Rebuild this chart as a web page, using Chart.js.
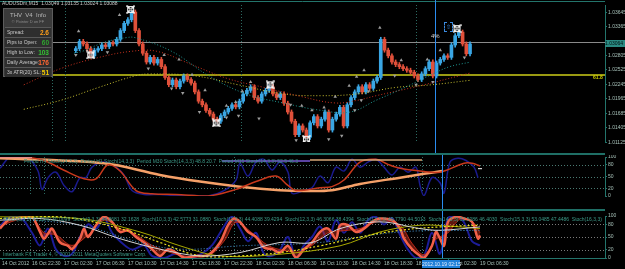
<!DOCTYPE html>
<html>
<head>
<meta charset="utf-8">
<script src="https://cdn.jsdelivr.net/npm/chart.js@4.4.0/dist/chart.umd.min.js"></script>
<style>
body { margin: 0; background: #000; width: 625px; height: 269px; overflow: hidden; position: relative; font-family: "Liberation Sans", Arial, sans-serif; }
canvas { position: absolute; left: 0; }
.txt { position: absolute; white-space: nowrap; font-size: 5px; line-height: 6px; }
.sep { position: absolute; left: 0; width: 605px; height: 2px; background: #1f6f66; }
#info { position: absolute; left: 3px; top: 8px; width: 50px; height: 69px; background: #3a3a3a; border: 1px solid #5c5c5c; box-sizing: border-box; }
#info .hd { position: absolute; left: 0; width: 100%; top: 3px; text-align: center; font-size: 6px; color: #b8b8b8; }
#info .sub { position: absolute; left: 0; width: 100%; top: 10px; text-align: center; font-size: 4px; color: #8a8a8a; }
#info .row { position: absolute; left: 1px; right: 1px; height: 9px; background: #2e2e2e; border-top: 1px solid #585858; font-size: 5px; color: #c8c8c8; line-height: 9px; padding-left: 2px; }
#info .row b { position: absolute; right: 2px; top: 0; font-size: 6.5px; }
</style>
</head>
<body>
<canvas id="main" width="625" height="155" style="top:0"></canvas>
<canvas id="st1" width="625" height="54" style="top:155px"></canvas>
<canvas id="st2" width="625" height="58" style="top:211px"></canvas>

<div class="sep" style="top:153px"></div>
<div class="sep" style="top:209px"></div>

<div class="txt" style="left:2px;top:0;color:#c8c8c8">AUDUSDm,M15&nbsp; 1.03049 1.03135 1.03024 1.03088</div>
<div id="info">
  <div class="hd">THV&nbsp; V4&nbsp; Info</div>
  <div class="sub">© Pointer D on FF</div>
  <div class="row" style="top:18px">Spread:<b style="color:#ff9f1a">2.6</b></div>
  <div class="row" style="top:28px">Pips to Open:<b style="color:#2ea32e">60</b></div>
  <div class="row" style="top:38px">High to Low:<b style="color:#33c233">103</b></div>
  <div class="row" style="top:48px">Daily Average:<b style="color:#ff6633">176</b></div>
  <div class="row" style="top:58px">3x ATR(20) SL:<b style="color:#f0c800">51</b></div>
</div>
<div class="txt" style="left:431px;top:33px;font-size:6px;color:#d8d8d8">4%</div>
<div style="position:absolute;left:444px;top:22px;width:7px;height:8px;border:1px dashed #3b8be0;color:#3b8be0;font-size:6px;line-height:8px;text-align:center">⇧</div>
<div class="txt" style="left:593px;top:74px;color:#d0d000;font-weight:bold">61.8</div>
<div class="txt" style="left:605px;top:40px;width:20px;height:7px;line-height:7px;background:#2a8a82;color:#001010">1.03064</div>

<div class="txt" style="left:24px;top:158px;color:#3c9a88">Period H4 Stoch(14,3,3)&nbsp; Period H1 Stoch(14,3,3)&nbsp; Period M30 Stoch(14,3,3) 48.8 20.7&nbsp; Period M15 Stoch(14,3,3) 52.5 46.3</div>
<div class="txt" style="left:4px;top:216px;color:#3c9a88">Stoch(5,3,3) 41.2240 30.0099&nbsp; Stoch(9,3,3) 44.8681 32.1628&nbsp; Stoch(10,3,3) 42.5773 31.0880&nbsp; Stoch(11,3,3) 44.4088 39.4294&nbsp; Stoch(12,3,3) 46.3066 38.4394&nbsp; Stoch(13,3,3) 49.7790 44.5013&nbsp; Stoch(14,3,3) 52.5086 46.4030&nbsp; Stoch(15,3,3) 53.0485 47.4486&nbsp; Stoch(16,3,3)</div>
<div class="txt" style="left:3px;top:251px;color:#3c9a88">Interbank FX Trader 4, © 2001-2011 MetaQuotes Software Corp.</div>
<div class="txt" style="left:422px;top:260px;width:38px;height:8px;line-height:8px;background:#1e7fd8;color:#e8f0ff;text-align:center">2012.10.19 02:15</div>

<script>
// x units: one slot = 4px
const X_MAX = 151.25;
const FIRST_BAR = 14;
const FIRST_OPEN = 1.0290;

const closes = [
    1.0294, 1.0308, 1.0303, 1.0294, 1.0280, 1.0291, 1.0294, 1.0301, 1.0298, 1.0305,
    1.0303, 1.0312, 1.0329, 1.0343, 1.0350, 1.0365, 1.0329, 1.0303, 1.0285, 1.0268,
    1.0277, 1.0266, 1.0273, 1.0259, 1.0238, 1.0224, 1.0233, 1.0220, 1.0231, 1.0241,
    1.0234, 1.0227, 1.0210, 1.0192, 1.0185, 1.0174, 1.0167, 1.0157, 1.0153, 1.0164,
    1.0171, 1.0178, 1.0185, 1.0181, 1.0192, 1.0206, 1.0213, 1.0220, 1.0199, 1.0192,
    1.0206, 1.0213, 1.0220, 1.0206, 1.0199, 1.0206, 1.0188, 1.0171, 1.0153, 1.0127,
    1.0144, 1.0136, 1.0122, 1.0150, 1.0162, 1.0144, 1.0157, 1.0171, 1.0136, 1.0157,
    1.0167, 1.0180, 1.0144, 1.0185, 1.0199, 1.0210, 1.0220, 1.0210, 1.0224, 1.0217,
    1.0231, 1.0238, 1.0312, 1.0291, 1.0280, 1.0268, 1.0263, 1.0259, 1.0255, 1.0252,
    1.0248, 1.0241, 1.0234, 1.0245, 1.0255, 1.0268, 1.0241, 1.0266, 1.0273, 1.0280,
    1.0277, 1.0301, 1.0319, 1.0326, 1.0303, 1.0284, 1.0303
];

const priceTicks = [1.03645, 1.03365, 1.02805, 1.02525, 1.02245, 1.01965, 1.01685, 1.01405, 1.01125];
const bidPrice = 1.03064;
const fibPrice = 1.02431;

const timeTickPos = [0.5, 8, 16, 24, 32, 40, 48, 56, 64, 72, 80, 88, 96, 104, 112, 120];
const timeTickLabels = ['14 Oct 2012', '16 Oct 22:30', '17 Oct 02:30', '17 Oct 06:30', '17 Oct 10:30',
    '17 Oct 14:30', '17 Oct 18:30', '17 Oct 22:30', '18 Oct 02:30', '18 Oct 06:30', '18 Oct 10:30',
    '18 Oct 14:30', '18 Oct 18:30', '18 Oct 22:30', '19 Oct 02:30', '19 Oct 06:30'];
const daySeparators = [7.5, 11, 58.5, 105.5];
const cursorPos = 110.5;

// moving averages [x, price]
const maTeal = [[13.5,1.02853],[15.75,1.02888],[21.75,1.03064],[27.5,1.03152],[30,1.03152],[39.75,1.02888],[49.75,1.02413],[59.75,1.02061],[69.75,1.01885],[79.75,1.01744],[87.75,1.01709],[94.75,1.01938],[99.75,1.02096],[105.5,1.02290],[110.5,1.02466],[114.5,1.02589],[120,1.02677]];
const maRed = [[0,1.02237],[10,1.02554],[20,1.02765],[29,1.02888],[35.75,1.02888],[44.75,1.02642],[54.75,1.02360],[64.75,1.02184],[74.75,1.02008],[83.75,1.01885],[89.75,1.01938],[94.75,1.02026],[104.5,1.02184],[110.5,1.02290],[120,1.02466]];
const maYellow = [[0,1.01762],[10,1.01938],[20,1.02184],[30,1.02413],[33.75,1.02448],[45.75,1.02413],[57.75,1.02237],[69.75,1.02061],[79.75,1.02026],[89.75,1.02061],[99.75,1.02184],[109.5,1.02237],[120,1.02325]];

// fractals and swing markers [x, price]
const fractalUp = [[14.75,1.03275],[25.75,1.03592],[37.75,1.02818],[41.75,1.02730],[45.25,1.02431],[48.75,1.02131],[54.5,1.01832],[57,1.01903],[58.75,1.02114],[61,1.02290],[68.5,1.02026],[74.75,1.01832],[77.5,1.01744],[80.75,1.01797],[83.75,1.02008],[87.5,1.02219],[89.5,1.02395],[91.5,1.02519],[95.75,1.03346],[101.5,1.02712],[108.5,1.02730],[112,1.02906]];
const fractalDown = [[14,1.02818],[22.5,1.02871],[33.5,1.02554],[39.75,1.02167],[42.75,1.02079],[47.25,1.01709],[54.5,1.01603],[57.75,1.01639],[63.25,1.01586],[71.75,1.01850],[73.25,1.01163],[82,1.01181],[85.5,1.01251],[89,1.01744],[90.75,1.01938],[92.75,1.02114],[99.75,1.02413],[105.5,1.02237],[110,1.02290],[118.5,1.02765]];
const swings = [[18,1.02818],[28.75,1.03698],[51.75,1.01498],[66.25,1.02237],[76,1.01181],[116.5,1.03328]];

// upper stochastic pane [x, value]
const stH4 = [[0,97],[26,84],[40,54],[50,37],[60,24],[70,15],[76,13],[83,15],[90,31],[100,47],[106,57],[110.5,64]];
const stH1 = [[0,100],[6,100],[11,91],[16,66],[21,44],[24,44],[27,80],[30,64],[34,14],[38,6],[44,4],[52,0],[59,17],[64,37],[69,51],[72,27],[74,14],[80,21],[83,24],[86,41],[90,87],[94,94],[97,81],[100,71],[105,64],[110,61],[116,84],[118,84],[120,77]];
const stM15 = [[0,71],[2.5,100],[4.5,94],[7,97],[9.5,64],[10.5,17],[12,47],[14,61],[16,27],[18,11],[20,47],[21.5,47],[23,74],[26,87],[29,74],[31,54],[33,14],[36,4],[40,4],[44,1],[48,1],[52,0],[56,14],[59,41],[60,84],[62,51],[64,87],[66,94],[68,67],[70,87],[72,61],[73,7],[76,14],[78,21],[80,51],[82,34],[84,74],[86,64],[88,94],[90,74],[92,87],[94,94],[96,74],[98,54],[100,74],[102,61],[104,74],[105,27],[106,1],[108,47],[110,34],[111,7],[112.5,87],[114.5,97],[116.5,91],[118.5,74],[119.5,47]];
const barH4 = [[0,99],[8,99]];
const barM30 = [[55.5,90],[77.5,90]];
const barH1 = [[77.5,92],[105.5,92]];
const lastM15 = [[119.5,70],[120.5,70]];

// lower stochastic pane [x, value]
const s2Main = [[0,70],[2,90],[4,94],[6,98],[8,98],[10,62],[11,46],[12,58],[13,70],[15,37],[17,29],[18,21],[20,46],[21,70],[22,50],[24,78],[26,98],[28,86],[30,62],[32,66],[34,50],[36,37],[38,21],[40,5],[42,21],[44,13],[46,1],[49,5],[52,7],[55,37],[57,78],[58.5,94],[60,86],[62,62],[64,50],[66,25],[68,21],[70,13],[72,29],[74,1],[76,21],[78,37],[80,62],[82,70],[84,46],[85,78],[87,78],[89,62],[91,70],[93,86],[95,94],[98,90],[100,70],[101,46],[103,21],[105,5],[106,0],[108,29],[109,62],[110,46],[111,29],[112,86],[114,98],[116,94],[118,86],[119.5,46],[120,54]];
const s2Signal = [[0,75],[4,90],[8,95],[11,60],[14,55],[18,30],[22,55],[26,90],[30,70],[34,55],[38,30],[42,15],[46,5],[52,5],[56,40],[59,85],[63,60],[67,30],[71,18],[75,15],[78,30],[82,60],[86,65],[90,70],[95,88],[100,78],[103,35],[106,8],[109,45],[112,60],[115,92],[118,88],[120,60]];
const s2Fast = [[0,75],[2,95],[5,98],[8,60],[10,30],[12,70],[14,20],[16,5],[18,10],[20,50],[22,80],[24,70],[26,95],[28,60],[30,40],[33,20],[36,30],[38,5],[41,0],[44,10],[47,0],[50,8],[53,30],[56,75],[58,98],[60,70],[62,40],[64,60],[66,10],[68,5],[70,20],[72,50],[74,0],[76,30],[78,50],[80,75],[82,40],[84,90],[86,60],[88,85],[90,60],[92,90],[94,98],[96,80],[98,95],[100,55],[102,20],[104,0],[106,5],[108,60],[110,10],[112,95],[114,100],[116,85],[118,40],[120,30]];
const s2White = [[0,90],[10,94],[20,78],[30,46],[40,21],[50,5],[60,13],[70,37],[78,37],[85,70],[95,86],[105,70],[110,66],[120,74]];
const s2Yellow = [[0,94],[15,98],[30,70],[40,37],[50,5],[60,5],[70,13],[80,29],[90,50],[100,66],[110,74],[120,78]];
const s2Olive = [[0,98],[20,94],[35,62],[45,29],[55,5],[70,9],[85,29],[95,62],[105,78],[115,74],[120,70]];
const s2Blue = [[0,94],[20,78],[35,37],[45,21],[60,29],[80,37],[100,62],[120,66]];

const UP = '#3aa6e4';
const DOWN = '#e0503a';
const AXIS_TXT = '#a6c0b8';
const FRAME = '#23746b';
const tiny = { family: 'Liberation Sans', size: 5 };

// candles
const bodies = [];
const wicks = [];
const candleColors = [];
closes.forEach((c, i) => {
    const o = i === 0 ? FIRST_OPEN : closes[i - 1];
    bodies.push({ x: FIRST_BAR + i, y: [o, c] });
    wicks.push({ x: FIRST_BAR + i, y: [Math.min(o, c) - 0.0004, Math.max(o, c) + 0.0004] });
    candleColors.push(c >= o ? UP : DOWN);
});

function makeSwingMark() {
    const c = document.createElement('canvas');
    c.width = 9; c.height = 9;
    const g = c.getContext('2d');
    g.strokeStyle = '#f4f4f4';
    g.lineWidth = 1;
    g.strokeRect(1.5, 1.5, 6, 6);
    g.lineWidth = 1.6;
    g.beginPath();
    g.moveTo(0.5, 0.5); g.lineTo(8.5, 8.5);
    g.moveTo(8.5, 0.5); g.lineTo(0.5, 8.5);
    g.stroke();
    g.fillStyle = '#555';
    g.fillRect(3.5, 3.5, 2, 2);
    return c;
}

function paneDecor(levels, levelColor, lastPane) {
    return {
        id: 'paneDecor',
        beforeDatasetsDraw(chart) {
            const { ctx, chartArea: a, scales: { x, y } } = chart;
            ctx.save();
            ctx.lineWidth = 1;
            ctx.setLineDash([1, 2]);
            ctx.strokeStyle = '#2c6a62';
            daySeparators.forEach(d => {
                const px = Math.round(x.getPixelForValue(d)) + 0.5;
                ctx.beginPath(); ctx.moveTo(px, a.top); ctx.lineTo(px, a.bottom); ctx.stroke();
            });
            ctx.strokeStyle = levelColor;
            levels.forEach(l => {
                const py = Math.round(y.getPixelForValue(l)) + 0.5;
                ctx.beginPath(); ctx.moveTo(a.left, py); ctx.lineTo(a.right, py); ctx.stroke();
            });
            ctx.restore();
        },
        afterDatasetsDraw(chart) {
            const { ctx, chartArea: a, scales: { x } } = chart;
            ctx.save();
            ctx.strokeStyle = '#2a8cf0';
            ctx.lineWidth = 1;
            const px = Math.round(x.getPixelForValue(cursorPos)) + 0.5;
            ctx.beginPath(); ctx.moveTo(px, lastPane ? a.top - 5 : 0); ctx.lineTo(px, lastPane ? a.bottom : chart.height); ctx.stroke();
            ctx.restore();
        }
    };
}

const mainLevels = {
    id: 'mainLevels',
    beforeDatasetsDraw(chart) {
        const { ctx, chartArea: a, scales: { y } } = chart;
        ctx.save();
        ctx.strokeStyle = FRAME;
        ctx.lineWidth = 1;
        ctx.beginPath(); ctx.moveTo(0, 1.5); ctx.lineTo(a.right, 1.5); ctx.stroke();
        ctx.strokeStyle = '#8a8a8a';
        let py = Math.round(y.getPixelForValue(bidPrice)) + 0.5;
        ctx.beginPath(); ctx.moveTo(a.left, py); ctx.lineTo(a.right, py); ctx.stroke();
        ctx.strokeStyle = '#9a9a12';
        ctx.lineWidth = 2;
        py = Math.round(y.getPixelForValue(fibPrice));
        ctx.beginPath(); ctx.moveTo(a.left, py); ctx.lineTo(a.right, py); ctx.stroke();
        ctx.restore();
    }
};

function xScale(show) {
    const s = {
        type: 'linear', min: 0, max: X_MAX, display: show,
        afterBuildTicks: sc => { sc.ticks = timeTickPos.map(v => ({ value: v })); },
        afterFit: sc => { sc.height = 11; sc.paddingLeft = 0; sc.paddingRight = 0; },
        ticks: { autoSkip: false, maxRotation: 0, align: 'start', padding: 1, font: tiny, color: AXIS_TXT,
            callback: (v, i) => timeTickLabels[i] },
        grid: { drawOnChartArea: false, color: FRAME, tickLength: 2 },
        border: { color: FRAME }
    };
    return s;
}

function yScale(min, max, ticks, fmt) {
    return {
        position: 'right', min: min, max: max,
        afterBuildTicks: sc => { sc.ticks = ticks.map(v => ({ value: v })); },
        afterFit: sc => { sc.width = 20; sc.paddingTop = 0; sc.paddingBottom = 0; },
        ticks: { font: tiny, color: AXIS_TXT, padding: 1, callback: fmt },
        grid: { drawOnChartArea: false, color: FRAME, tickLength: 2 },
        border: { color: FRAME, width: 1 }
    };
}

const baseOpts = {
    responsive: false,
    animation: false,
    events: [],
    devicePixelRatio: 1,
    plugins: { legend: { display: false }, tooltip: { enabled: false } }
};

function dotted(data, color, width, dash) {
    return { type: 'line', data: data, borderColor: color, borderWidth: width || 1, borderDash: dash || [1, 2],
        pointRadius: 0, tension: 0.4, fill: false };
}
function solid(data, color, width) {
    return { type: 'line', data: data, borderColor: color, borderWidth: width, pointRadius: 0, tension: 0.35, fill: false };
}

new Chart(document.getElementById('main'), {
    type: 'bar',
    data: {
        datasets: [
            { type: 'scatter', data: swings, pointStyle: makeSwingMark(), pointRadius: 4 },
            { type: 'scatter', data: fractalUp, pointStyle: 'triangle', pointRadius: 2, backgroundColor: '#9c9c9c', borderWidth: 0 },
            { type: 'scatter', data: fractalDown, pointStyle: 'triangle', rotation: 180, pointRadius: 2, backgroundColor: '#9c9c9c', borderWidth: 0 },
            dotted(maTeal, '#1f9a94'),
            dotted(maRed, '#c8321e'),
            dotted(maYellow, '#c8c030'),
            { data: bodies, backgroundColor: candleColors, barThickness: 3, grouped: false, minBarLength: 1 },
            { data: wicks, backgroundColor: candleColors, barThickness: 1, grouped: false }
        ]
    },
    options: Object.assign({}, baseOpts, {
        layout: { padding: { top: 2, bottom: 2, left: 0, right: 0 } },
        scales: {
            x: xScale(false),
            y: yScale(1.01128, 1.03786, priceTicks, v => v.toFixed(5))
        }
    }),
    plugins: [mainLevels, paneDecor([], '#000', false)]
});

new Chart(document.getElementById('st1'), {
    type: 'line',
    data: {
        datasets: [
            solid(lastM15, '#ffffff', 1),
            solid(barH4, '#e08a8a', 1.5),
            solid(barM30, '#7a5ad8', 1.5),
            solid(barH1, '#d8a878', 1.5),
            solid(stH1, '#c8381c', 1.5),
            solid(stH4, '#f5a068', 2.5),
            solid(stM15, '#1a1a8c', 1.5)
        ]
    },
    options: Object.assign({}, baseOpts, {
        layout: { padding: { top: 2, bottom: 2, left: 0, right: 0 } },
        scales: {
            x: xScale(false),
            y: yScale(0, 100, [0, 20, 50, 80, 100], v => String(v))
        }
    }),
    plugins: [paneDecor([80, 50, 20], '#4a7a72', false)]
});

new Chart(document.getElementById('st2'), {
    type: 'line',
    data: {
        datasets: [
            solid(s2White, '#d4d4d4', 1),
            dotted(s2Yellow, '#e8e020', 1.2, [2, 2]),
            solid(s2Olive, '#a8a800', 1),
            dotted(s2Blue, '#4a9ad8', 1),
            { type: 'line', data: s2Main, borderColor: '#f26048', borderWidth: 2.5, pointRadius: 0, tension: 0.35,
                fill: { target: '+1', above: 'rgba(210,50,30,0.45)', below: 'rgba(210,50,30,0.45)' } },
            solid(s2Signal, '#b02414', 1),
            solid(s2Fast, '#1c1c98', 2)
        ]
    },
    options: Object.assign({}, baseOpts, {
        layout: { padding: { top: 5, bottom: 0, left: 0, right: 0 } },
        scales: {
            x: xScale(true),
            y: yScale(0, 100, [0, 20, 50, 80, 100], v => String(v))
        }
    }),
    plugins: [paneDecor([80, 50, 20], '#7a7a7a', true)]
});
</script>
</body>
</html>
